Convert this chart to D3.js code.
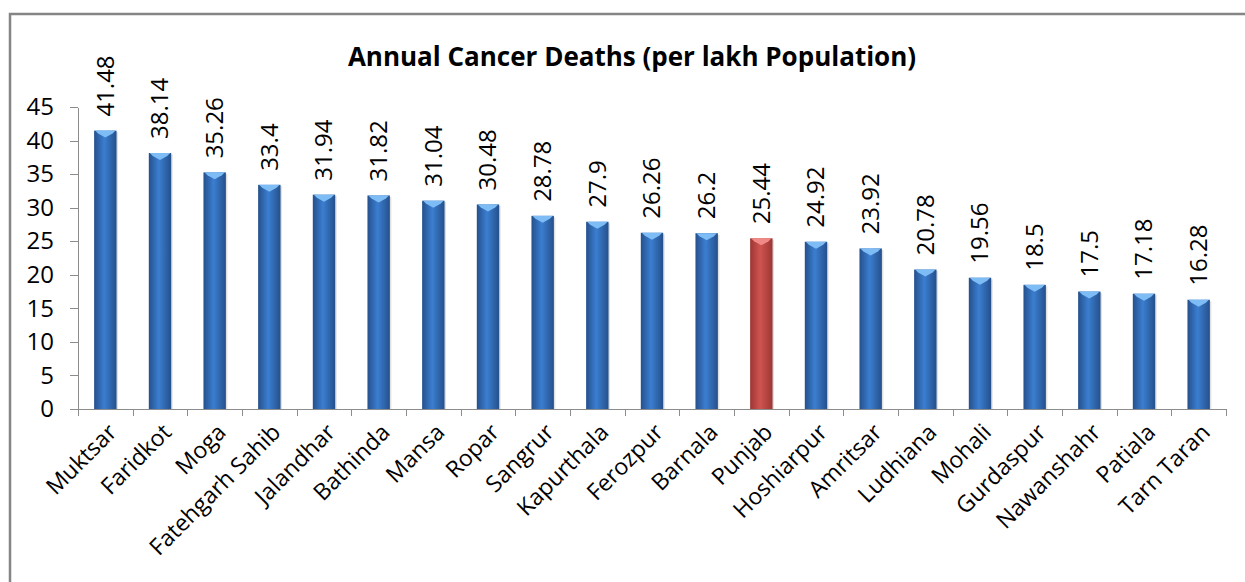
<!DOCTYPE html>
<html lang="en">
<head>
<meta charset="UTF-8">
<title>Annual Cancer Deaths</title>
<script src="https://d3js.org/d3.v7.min.js"></script>
<style>
  body { margin: 0; background: #fff; }
  .axis path, .axis line { stroke: #8c8c8c; shape-rendering: crispEdges; }
  .axis text { font-family: "Open Sans", sans-serif; fill: #000; }
</style>
</head>
<body>
<script>
var districts = ["Muktsar", "Faridkot", "Moga", "Fatehgarh Sahib", "Jalandhar", "Bathinda", "Mansa",
  "Ropar", "Sangrur", "Kapurthala", "Ferozpur", "Barnala", "Punjab", "Hoshiarpur", "Amritsar",
  "Ludhiana", "Mohali", "Gurdaspur", "Nawanshahr", "Patiala", "Tarn Taran"];
var deaths = [41.48, 38.14, 35.26, 33.4, 31.94, 31.82, 31.04, 30.48, 28.78, 27.9, 26.26, 26.2, 25.44,
  24.92, 23.92, 20.78, 19.56, 18.5, 17.5, 17.18, 16.28];
var highlight = ["Punjab"];
var yTicks = [0, 5, 10, 15, 20, 25, 30, 35, 40, 45];

var W = 1245, H = 582;
var margin = {left: 78, top: 107, right: 19, bottom: 173};
var w = W - margin.left - margin.right, h = H - margin.top - margin.bottom;

var data = districts.map(function(d, i) { return {name: d, value: deaths[i]}; });

var svg = d3.select("body").append("svg").attr("width", W).attr("height", H);

// outer frame
svg.append("rect").attr("x", 10).attr("y", 14).attr("width", W).attr("height", H)
  .attr("fill", "none").attr("stroke", "#858585").attr("stroke-width", 2.5);

var defs = svg.append("defs");
function grad(id, edge, mid) {
  var g = defs.append("linearGradient").attr("id", id).attr("x1", "0%").attr("x2", "100%");
  g.append("stop").attr("offset", "0%").attr("stop-color", edge);
  g.append("stop").attr("offset", "45%").attr("stop-color", mid);
  g.append("stop").attr("offset", "100%").attr("stop-color", edge);
}
grad("gBlue", "#25508c", "#3b7ed0");
grad("gRed", "#9c3633", "#cf5451");

var g = svg.append("g").attr("transform", "translate(" + margin.left + "," + margin.top + ")");

var x = d3.scaleBand().domain(districts).range([0, w]);
var y = d3.scaleLinear().domain([0, 45]).range([h, 0]);

svg.append("text")
  .attr("x", 632).attr("y", 66)
  .attr("text-anchor", "middle")
  .style("font-family", "'Open Sans', sans-serif")
  .style("font-weight", "bold").style("font-size", "26px")
  .text("Annual Cancer Deaths (per lakh Population)");

// y axis
var yAxis = g.append("g").attr("class", "axis")
  .call(d3.axisLeft(y).tickValues(yTicks).tickSize(8).tickSizeOuter(0).tickPadding(16));
yAxis.selectAll("text").style("font-size", "24px");

// x axis with ticks on band boundaries
var xAx = g.append("g").attr("class", "axis").attr("transform", "translate(0," + h + ")");
xAx.append("line").attr("x1", 0).attr("x2", w).attr("y1", 0).attr("y2", 0);
xAx.selectAll(".tk").data(d3.range(districts.length + 1)).enter().append("line")
  .attr("x1", function(i) { return Math.round(i * x.step()); })
  .attr("x2", function(i) { return Math.round(i * x.step()); })
  .attr("y1", 0).attr("y2", 7);
xAx.selectAll(".lbl").data(districts).enter().append("text")
  .attr("transform", function(d) { return "translate(" + (x(d) + x.bandwidth() / 2 + 7) + ",19) rotate(-45)"; })
  .attr("text-anchor", "end")
  .attr("dy", "0.35em")
  .style("font-size", "23px")
  .text(function(d) { return d; });

var bw = x.bandwidth() * 0.41;
var bars = g.selectAll(".bar").data(data).enter().append("g").attr("class", "bar");

bars.append("rect")
  .attr("x", function(d) { return x(d.name) + x.bandwidth() / 2 - bw / 2 + 1.5; })
  .attr("y", function(d) { return y(d.value) + 1.5; })
  .attr("width", bw).attr("height", function(d) { return h - y(d.value) - 1.5; })
  .attr("fill", "#000").attr("opacity", 0.12);

bars.append("rect")
  .attr("x", function(d) { return x(d.name) + x.bandwidth() / 2 - bw / 2; })
  .attr("y", function(d) { return y(d.value); })
  .attr("width", bw).attr("height", function(d) { return h - y(d.value); })
  .attr("fill", function(d) { return highlight.indexOf(d.name) >= 0 ? "url(#gRed)" : "url(#gBlue)"; });

bars.append("path")
  .attr("d", function(d) {
    var cx = x(d.name) + x.bandwidth() / 2, t = y(d.value);
    return "M" + (cx - bw / 2 + 1) + "," + t + "L" + (cx + bw / 2 - 1) + "," + t +
      "L" + (cx + bw / 2 - 4) + "," + (t + 3) + "L" + cx + "," + (t + 7) +
      "L" + (cx - bw / 2 + 4) + "," + (t + 3) + "Z";
  })
  .attr("fill", function(d) { return highlight.indexOf(d.name) >= 0 ? "#f08a86" : "#7dbcf5"; });

g.selectAll(".val").data(data).enter().append("text")
  .attr("transform", function(d) { return "translate(" + (x(d.name) + x.bandwidth() / 2) + "," + (y(d.value) - 14) + ") rotate(-90)"; })
  .attr("dy", "0.35em")
  .style("font-family", "'Open Sans', sans-serif").style("font-size", "24px")
  .text(function(d) { return d.value; });
</script>
</body>
</html>
